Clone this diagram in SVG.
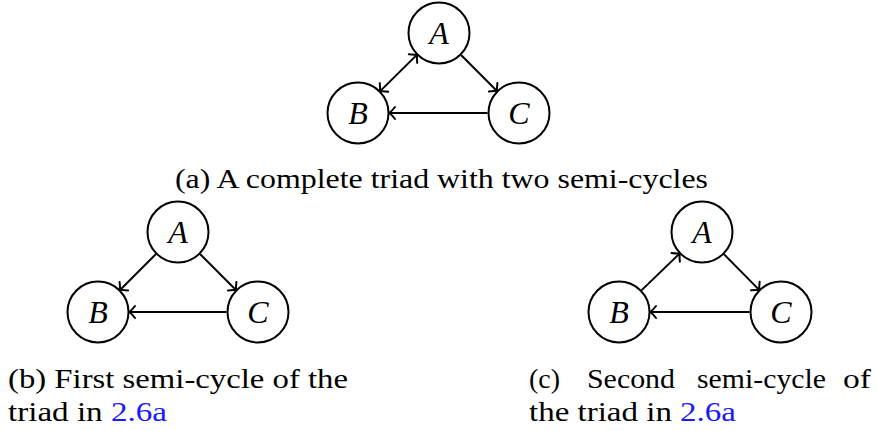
<svg xmlns="http://www.w3.org/2000/svg" width="878" height="431" viewBox="0 0 878 431">
<style>
.n{fill:#fff;stroke:#000;stroke-width:2}
.l{font-family:"Liberation Serif",serif;font-style:italic;font-size:32px;text-anchor:middle;fill:#000}
.e{stroke:#000;stroke-width:2;fill:none}
.c{font-family:"Liberation Serif",serif;font-size:27px;fill:#000}
.ref{fill:#1a1aff}
</style>
<defs>
<marker id="ar" markerUnits="userSpaceOnUse" viewBox="-10 -10 20 20" markerWidth="20" markerHeight="20" refX="0" refY="0" orient="auto-start-reverse">
<path d="M-5,-6 Q-1.5,-1.5 0.8,0 Q-1.5,1.5 -5,6" fill="none" stroke="#000" stroke-width="2" stroke-linecap="round"/>
</marker>
</defs>
<g id="connectors">
<line class="e" x1="416.6" y1="55.1" x2="380.4" y2="90.9" marker-start="url(#ar)" marker-end="url(#ar)"/>
<line class="e" x1="461.3" y1="55.3" x2="496.7" y2="90.7" marker-end="url(#ar)"/>
<line class="e" x1="487.5" y1="113" x2="390" y2="113" marker-end="url(#ar)"/>
<line class="e" x1="155.7" y1="254.3" x2="120.3" y2="289.7" marker-end="url(#ar)"/>
<line class="e" x1="200.3" y1="254.3" x2="235.7" y2="289.7" marker-end="url(#ar)"/>
<line class="e" x1="226.5" y1="312" x2="130" y2="312" marker-end="url(#ar)"/>
<line class="e" x1="641.7" y1="290.1" x2="679.3" y2="253.9" marker-end="url(#ar)"/>
<line class="e" x1="724.1" y1="254.4" x2="758.9" y2="289.6" marker-end="url(#ar)"/>
<line class="e" x1="749.5" y1="312" x2="651" y2="312" marker-end="url(#ar)"/>
</g>
<g id="a-A"><circle class="n" cx="439" cy="33" r="30.5"/><text class="l" x="439" y="44">A</text></g>
<g id="a-B"><circle class="n" cx="358" cy="113" r="30.5"/><text class="l" x="358" y="124">B</text></g>
<g id="a-C"><circle class="n" cx="519" cy="113" r="30.5"/><text class="l" x="519" y="124">C</text></g>
<g id="b-A"><circle class="n" cx="178" cy="232" r="30.5"/><text class="l" x="178" y="243">A</text></g>
<g id="b-B"><circle class="n" cx="98" cy="312" r="30.5"/><text class="l" x="98" y="323">B</text></g>
<g id="b-C"><circle class="n" cx="258" cy="312" r="30.5"/><text class="l" x="258" y="323">C</text></g>
<g id="c-A"><circle class="n" cx="702" cy="232" r="30.5"/><text class="l" x="702" y="243">A</text></g>
<g id="c-B"><circle class="n" cx="619" cy="312" r="30.5"/><text class="l" x="619" y="323">B</text></g>
<g id="c-C"><circle class="n" cx="781" cy="312" r="30.5"/><text class="l" x="781" y="323">C</text></g>
<g id="captions">
<text class="c" x="175" y="188" textLength="533" lengthAdjust="spacingAndGlyphs">(a) A complete triad with two semi-cycles</text>
<text class="c" x="8" y="388" textLength="340" lengthAdjust="spacingAndGlyphs">(b) First semi-cycle of the</text>
<text class="c" x="8" y="421" textLength="159" lengthAdjust="spacingAndGlyphs">triad in <tspan class="ref">2.6a</tspan></text>
<text class="c" x="529" y="388" textLength="31" lengthAdjust="spacingAndGlyphs">(c)</text>
<text class="c" x="587" y="388" textLength="88" lengthAdjust="spacingAndGlyphs">Second</text>
<text class="c" x="697" y="388" textLength="129" lengthAdjust="spacingAndGlyphs">semi-cycle</text>
<text class="c" x="843" y="388" textLength="28" lengthAdjust="spacingAndGlyphs">of</text>
<text class="c" x="529" y="421" textLength="207" lengthAdjust="spacingAndGlyphs">the triad in <tspan class="ref">2.6a</tspan></text>
</g>
</svg>
